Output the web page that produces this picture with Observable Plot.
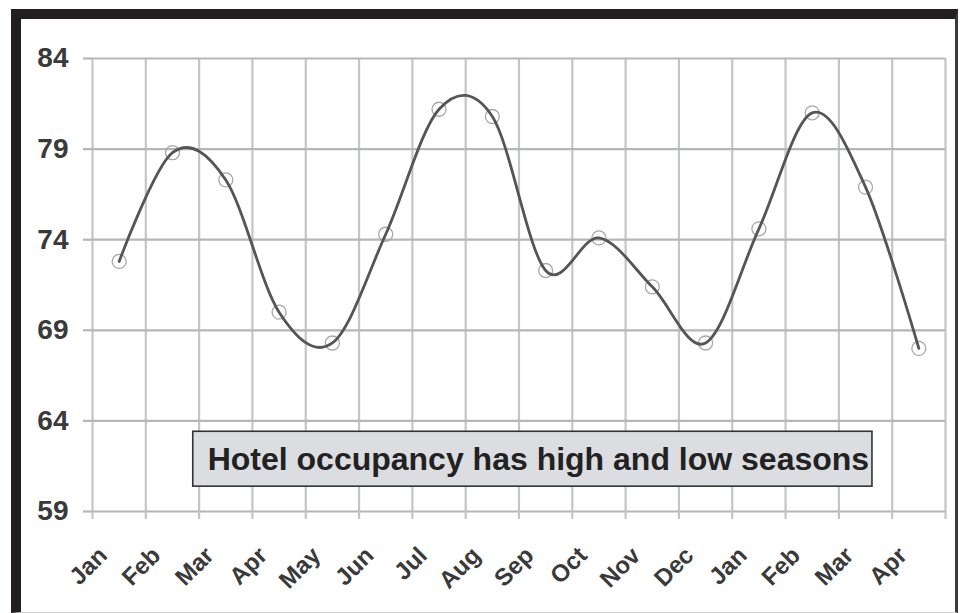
<!DOCTYPE html>
<html>
<head>
<meta charset="utf-8">
<script src="https://cdn.jsdelivr.net/npm/d3@7"></script>
<script src="https://cdn.jsdelivr.net/npm/@observablehq/plot@0.6"></script>
<style>
  html, body { margin: 0; padding: 0; background: #fff; }
  #wrap { position: relative; width: 960px; height: 613px; overflow: hidden; }
  #frame { position: absolute; left: 11px; top: 9px; width: 947px; height: 604px; box-sizing: border-box;
           border-top: 10px solid #231f20; border-left: 10px solid #231f20; border-right: 3px solid #3a3a3a; border-bottom: 1px solid #cfcfcf; pointer-events: none; }
  #chart { position: absolute; left: 0; top: 0; }
</style>
</head>
<body>
<div id="wrap"><div id="chart"></div><div id="frame"></div></div>
<script>
const months = ["Jan","Feb","Mar","Apr","May","Jun","Jul","Aug","Sep","Oct","Nov","Dec","Jan","Feb","Mar","Apr"];
const occupancy = [72.8, 78.8, 77.3, 70.0, 68.3, 74.3, 81.2, 80.8, 72.3, 74.1, 71.4, 68.3, 74.6, 81.0, 76.9, 68.0];
const yTicks = [59, 64, 69, 74, 79, 84];
const noteText = "Hotel occupancy has high and low seasons";
const noteBox = {x1: 1.89, x2: 14.63, y1: 60.37, y2: 63.40};
const noteAt = {x: 2.16, y: 61.88};

const data = months.map((m, i) => ({i, pos: i + 0.5, month: m, value: occupancy[i]}));
const edges = d3.range(months.length + 1);
const mids = data.map(d => d.pos);

const gridColor = "#c3c5c9";
const textColor = "#3a3a3a";

const chart = Plot.plot({
  width: 960,
  height: 613,
  marginLeft: 92,
  marginRight: 15,
  marginTop: 58,
  marginBottom: 102,
  style: {fontFamily: "'Liberation Sans', Arial, sans-serif", background: "transparent", overflow: "visible"},
  x: {domain: [0, months.length]},
  y: {domain: [59, 84]},
  marks: [
    Plot.ruleX(edges, {x: d => d, stroke: gridColor, strokeWidth: 2.2}),
    Plot.ruleY(yTicks, {y: d => d, stroke: "#b5b6b8", strokeWidth: 2.2}),
    Plot.axisY({ticks: yTicks, tickSize: 9, tickPadding: 15, stroke: "#b5b6b8", strokeWidth: 2.2,
      fontSize: 28, fontWeight: "bold", fill: textColor, label: null}),
    Plot.axisX({ticks: edges, tickSize: 8, stroke: gridColor, strokeWidth: 2.2, tickFormat: () => "", label: null}),
    Plot.axisX({ticks: mids, tickSize: 0, tickRotate: -45, tickPadding: 14, dx: -16, dy: 26,
      tickFormat: d => months[Math.floor(d)], fontSize: 24, fontWeight: "bold", fill: textColor, label: null}),
    Plot.rect([noteBox], {x1: "x1", x2: "x2", y1: "y1", y2: "y2", fill: "#dcdde0", stroke: "#333", strokeWidth: 1.6}),
    Plot.text([noteAt], {x: "x", y: "y", text: () => noteText, textAnchor: "start", lineAnchor: "middle",
      fontSize: 32, fontWeight: "bold", fill: "#222"}),
    Plot.dot(data, {x: "pos", y: "value", r: 7, stroke: "#a8a8a8", strokeWidth: 1.3, fill: "none"}),
    Plot.line(data, {x: "pos", y: "value", curve: "cardinal", stroke: "#555", strokeWidth: 2.8})
  ]
});
document.getElementById("chart").appendChild(chart);
</script>
</body>
</html>
